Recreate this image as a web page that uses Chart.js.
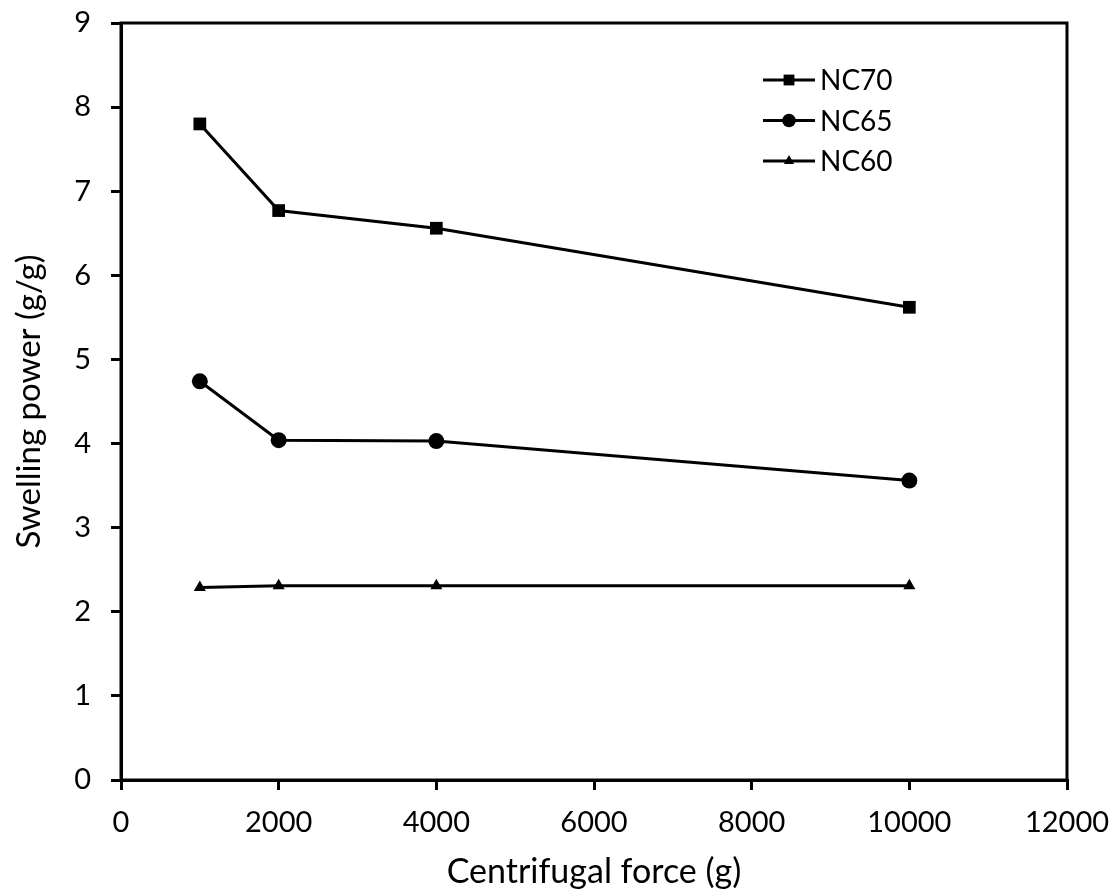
<!DOCTYPE html>
<html lang="en">
<head>
<meta charset="UTF-8">
<title>Swelling power vs centrifugal force</title>
<script src="https://cdn.jsdelivr.net/npm/chart.js"></script>
<style>
  html, body { margin: 0; padding: 0; background: #fff; }
  #wrap { width: 1115px; height: 896px; }
</style>
</head>
<body>
<div id="wrap"><canvas id="swelling"></canvas></div>
<script>
// centrifugal force (g)
const force = [1000, 2000, 4000, 10000];
// swelling power (g/g)
const nc70 = [7.80, 6.77, 6.56, 5.62];
const nc65 = [4.74, 4.04, 4.03, 3.56];
const nc60 = [2.29, 2.31, 2.31, 2.31];

const seriesNames = ['NC70', 'NC65', 'NC60'];
const seriesValues = [nc70, nc65, nc60];
const seriesMarkers = ['rect', 'circle', 'triangle'];
const markerRadius = [9, 8, 7];

const FONT = 'Lato, "Open Sans", sans-serif';

const datasets = seriesNames.map((name, i) => ({
  label: name,
  data: force.map((f, j) => ({ x: f, y: seriesValues[i][j] })),
  borderColor: '#000',
  backgroundColor: '#000',
  borderWidth: 3,
  pointStyle: seriesMarkers[i],
  pointRadius: markerRadius[i],
  pointBorderWidth: 0,
  tension: 0
}));

// box around the plot area
const frame = {
  id: 'frame',
  afterDraw(chart) {
    const { ctx, chartArea: a } = chart;
    ctx.save();
    ctx.strokeStyle = '#000';
    ctx.lineWidth = 3;
    ctx.strokeRect(a.left, a.top, a.right - a.left, a.bottom - a.top);
    ctx.restore();
  }
};

// legend drawn inside the plot, upper right
const insideLegend = {
  id: 'insideLegend',
  afterDatasetsDraw(chart) {
    const { ctx, chartArea: a } = chart;
    const x0 = a.right - 304, x1 = a.right - 252;
    ctx.save();
    chart.data.datasets.forEach((ds, i) => {
      const y = a.top + 57 + i * 40.5;
      ctx.strokeStyle = '#000';
      ctx.lineWidth = 3;
      ctx.beginPath();
      ctx.moveTo(x0, y);
      ctx.lineTo(x1, y);
      ctx.stroke();
      ctx.fillStyle = '#000';
      Chart.helpers.drawPoint(ctx, {
        pointStyle: ds.pointStyle,
        radius: ds.pointRadius * 0.85,
        borderWidth: 0,
        rotation: 0
      }, (x0 + x1) / 2, y);
      ctx.fillStyle = '#000';
      ctx.font = '28px ' + FONT;
      ctx.textAlign = 'left';
      ctx.textBaseline = 'middle';
      ctx.fillText(ds.label, x1 + 5, y + 1);
    });
    ctx.restore();
  }
};

const axisStyle = {
  border: { display: true, color: '#000', width: 3 },
  grid: { display: true, drawOnChartArea: false, drawTicks: true, tickLength: 10, color: '#000', lineWidth: 3 },
};

new Chart(document.getElementById('swelling'), {
  type: 'line',
  data: { datasets },
  options: {
    responsive: true,
    maintainAspectRatio: false,
    animation: false,
    layout: { padding: { top: 23, right: 48, left: 0, bottom: 0 } },
    plugins: {
      legend: { display: false },
      tooltip: { enabled: false }
    },
    scales: {
      x: {
        type: 'linear',
        min: 0,
        max: 12000,
        ...axisStyle,
        ticks: { stepSize: 2000, color: '#000', font: { family: FONT, size: 29 }, padding: 15, maxRotation: 0,
                 callback: v => String(v) },
        title: { display: true, text: 'Centrifugal force (g)', color: '#000', font: { family: FONT, size: 34 }, padding: { top: 0, bottom: 4 } },
        afterFit(scale) {
          scale.height = 116;
          scale.paddingLeft = 0;
          scale.paddingRight = 0;
        }
      },
      y: {
        type: 'linear',
        min: 0,
        max: 9,
        ...axisStyle,
        ticks: { stepSize: 1, color: '#000', font: { family: FONT, size: 29 }, padding: 20 },
        title: { display: true, text: 'Swelling power (g/g)', color: '#000', font: { family: FONT, size: 33 }, padding: { top: 10, bottom: 0 } },
        afterFit(scale) {
          scale.width = 121;
          scale.paddingTop = 0;
          scale.paddingBottom = 0;
        }
      }
    }
  },
  plugins: [frame, insideLegend]
});
</script>
</body>
</html>
